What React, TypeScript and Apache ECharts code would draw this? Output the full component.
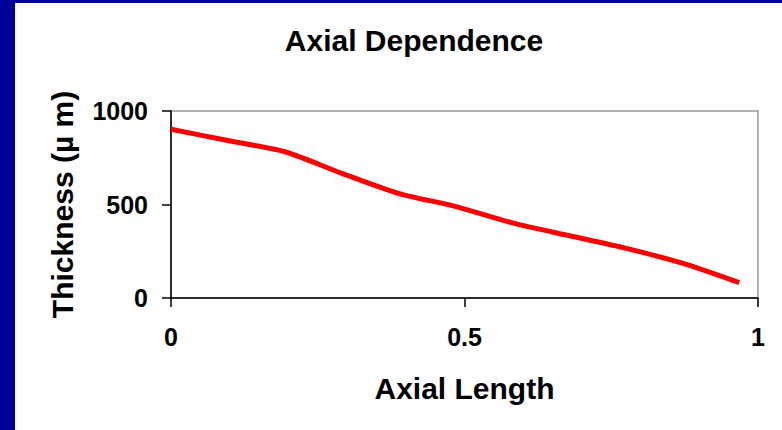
import React, { useEffect, useRef } from "react";
import * as echarts from "echarts";

const axialPositions = [0, 0.097, 0.194, 0.29, 0.387, 0.484, 0.58, 0.677, 0.774, 0.871, 0.968];
const thicknessValues = [902, 842, 782, 668, 560, 490, 403, 334, 267, 186, 82];
const yTicks = [0, 500, 1000];
const xTicks = [0, 0.5, 1];

const FONT = "'Liberation Sans', Arial, sans-serif";

export default function App() {
  const ref = useRef<HTMLDivElement>(null);
  useEffect(() => {
    document.body.style.margin = "0";
    const chart = echarts.init(ref.current!, null, { renderer: "svg" });
    const data = axialPositions.map((x, i) => [x, thicknessValues[i]]);
    chart.setOption({
      animation: false,
      backgroundColor: "#ffffff",
      title: {
        text: "Axial Dependence",
        left: 409,
        top: 20,
        textAlign: "center",
        textStyle: { fontFamily: FONT, fontWeight: "bold", fontSize: 30, color: "#000" },
      },
      graphic: [
        { type: "rect", shape: { x: 0, y: 0, width: 15, height: 430 }, style: { fill: "#000099" } },
        { type: "rect", shape: { x: 0, y: 0, width: 782, height: 3 }, style: { fill: "#000099" } },
      ],
      grid: {
        left: 171,
        right: 24,
        top: 111,
        bottom: 132,
        show: true,
        borderColor: "#999999",
        borderWidth: 1.5,
        backgroundColor: "transparent",
      },
      xAxis: {
        type: "value",
        min: 0,
        max: 1,
        interval: 0.5,
        name: "Axial Length",
        nameLocation: "middle",
        nameGap: 75,
        nameTextStyle: { fontFamily: FONT, fontWeight: "bold", fontSize: 30, color: "#000" },
        axisLine: { show: true, lineStyle: { color: "#000", width: 1.5 } },
        axisTick: { show: true, length: 9, lineStyle: { color: "#000", width: 1.5 } },
        splitLine: { show: false },
        axisLabel: {
          margin: 26,
          fontFamily: FONT,
          fontWeight: "bold",
          fontSize: 25,
          color: "#000",
          formatter: (v: number) => (xTicks.includes(v) ? String(v) : ""),
        },
      },
      yAxis: {
        type: "value",
        min: 0,
        max: 1000,
        interval: 500,
        name: "Thickness (µ m)",
        nameLocation: "middle",
        nameGap: 94,
        nameTextStyle: { fontFamily: FONT, fontWeight: "bold", fontSize: 30, color: "#000" },
        axisLine: { show: true, lineStyle: { color: "#000", width: 1.5 } },
        axisTick: { show: true, length: 9, lineStyle: { color: "#000", width: 1.5 } },
        splitLine: { show: false },
        axisLabel: {
          margin: 23,
          fontFamily: FONT,
          fontWeight: "bold",
          fontSize: 25,
          color: "#000",
          formatter: (v: number) => (yTicks.includes(v) ? String(v) : ""),
        },
      },
      series: [
        {
          type: "line",
          data,
          smooth: 0.25,
          symbol: "none",
          lineStyle: { color: "#ff0000", width: 5 },
        },
      ],
    });
    return () => chart.dispose();
  }, []);
  return <div ref={ref} style={{ width: 782, height: 430 }} />;
}
